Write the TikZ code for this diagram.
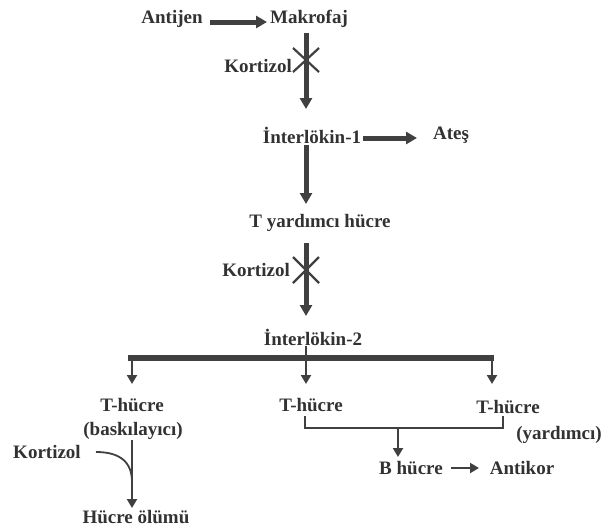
\documentclass[tikz,border=0pt]{standalone}
\usepackage{fontspec}
\setmainfont{Liberation Serif}
\usetikzlibrary{arrows.meta,calc}
\definecolor{ink}{RGB}{50,50,50}
\definecolor{lineink}{RGB}{64,64,64}
\begin{document}
\begin{tikzpicture}[x=1pt,y=-1pt,
  lbl/.style={inner sep=0pt,text=ink,font=\fontsize{19}{22}\selectfont\bfseries},
  thickarr/.style={draw=lineink,line width=5pt,-{Triangle[length=11pt,width=12pt]}},
  thinarr/.style={draw=lineink,line width=2pt,-{Triangle[length=9pt,width=10pt]}},
  thinline/.style={draw=lineink,line width=1.8pt},
  bar/.style={draw=lineink,line width=5.5pt},
  crossline/.style={draw=lineink,line width=2.2pt}]
\useasboundingbox (0,0) rectangle (605,531);
\fill[white] (0,0) rectangle (605,531);
% nodes
\node[lbl] (antijen) at (172,19) {Antijen};
\node[lbl] (makrofaj) at (309,19) {Makrofaj};
\node[lbl,anchor=east] (kort1) at (292,66) {Kortizol};
\node[lbl] (il1) at (312,135) {İnterlökin-1};
\node[lbl] (ates) at (451,135) {Ateş};
\node[lbl] (tyh) at (320,223) {T yardımcı hücre};
\node[lbl,anchor=east] (kort2) at (290,270) {Kortizol};
\node[lbl] (il2) at (313,337) {İnterlökin-2};
\node[lbl] (th1) at (132,405) {T-hücre};
\node[lbl] (bask) at (133,431) {(baskılayıcı)};
\node[lbl] (th2) at (311,405) {T-hücre};
\node[lbl] (th3) at (508,407) {T-hücre};
\node[lbl] (yard) at (559,435) {(yardımcı)};
\node[lbl] (bh) at (411,468) {B hücre};
\node[lbl] (antikor) at (522,468) {Antikor};
\node[lbl] (kort3) at (47,452) {Kortizol};
\node[lbl] (olum) at (136,517) {Hücre ölümü};
% connector end points
\coordinate (r1s) at (210,22);
\coordinate (r1e) at (267,22);
\coordinate (a1s) at (306,33);
\coordinate (a1e) at (306,109);
\coordinate (x1) at (306,60);
\coordinate (r2s) at (363,138);
\coordinate (r2e) at (417,138);
\coordinate (a2s) at (306,145);
\coordinate (a2e) at (306,204);
\coordinate (a3s) at (306,243);
\coordinate (a3e) at (306,316);
\coordinate (x2) at (306,270);
\coordinate (il2s) at (306,346);
\coordinate (th2n) at (306,384);
\coordinate (barL) at (128,358);
\coordinate (barR) at (494,358);
\coordinate (th1n) at (132,384);
\coordinate (th3n) at (492,384);
\coordinate (brL) at (305,416);
\coordinate (brR) at (503,416);
\coordinate (brM) at (398,428);
\coordinate (bhn) at (398,457);
\coordinate (bhe) at (451,468);
\coordinate (akw) at (479,468);
\coordinate (bks) at (132,440);
\coordinate (oln) at (132,508);
\coordinate (k3e) at (96,452);
\coordinate (k3j) at (132,482);
% top
\draw[thickarr] (r1s) -- (r1e);
\draw[thickarr] (a1s) -- (a1e);
\draw[crossline] ($(x1)+(-13,-12)$) -- ($(x1)+(13,12)$);
\draw[crossline] ($(x1)+(-13,12)$) -- ($(x1)+(13,-12)$);
\draw[thickarr] (r2s) -- (r2e);
\draw[thickarr] (a2s) -- (a2e);
\draw[thickarr] (a3s) -- (a3e);
\draw[crossline] ($(x2)+(-13,-13)$) -- ($(x2)+(13,13)$);
\draw[crossline] ($(x2)+(-13,13)$) -- ($(x2)+(13,-13)$);
% branching bar
\draw[bar] (barL) -- (barR);
\draw[thinarr] (il2s) -- (th2n);
\draw[thinarr] ($(barL)+(4,0)$) -- (th1n);
\draw[thinarr] (th3n |- barR) -- (th3n);
% bracket
\draw[thinline] (brL) |- (brM) -| (brR);
\draw[thinarr] (brM) -- (bhn);
\draw[thinarr] (bhe) -- (akw);
% left branch
\draw[thinarr] (bks) -- (oln);
\draw[thinline] (k3e) .. controls (120,452) and (132,462) .. (k3j);
\end{tikzpicture}
\end{document}
